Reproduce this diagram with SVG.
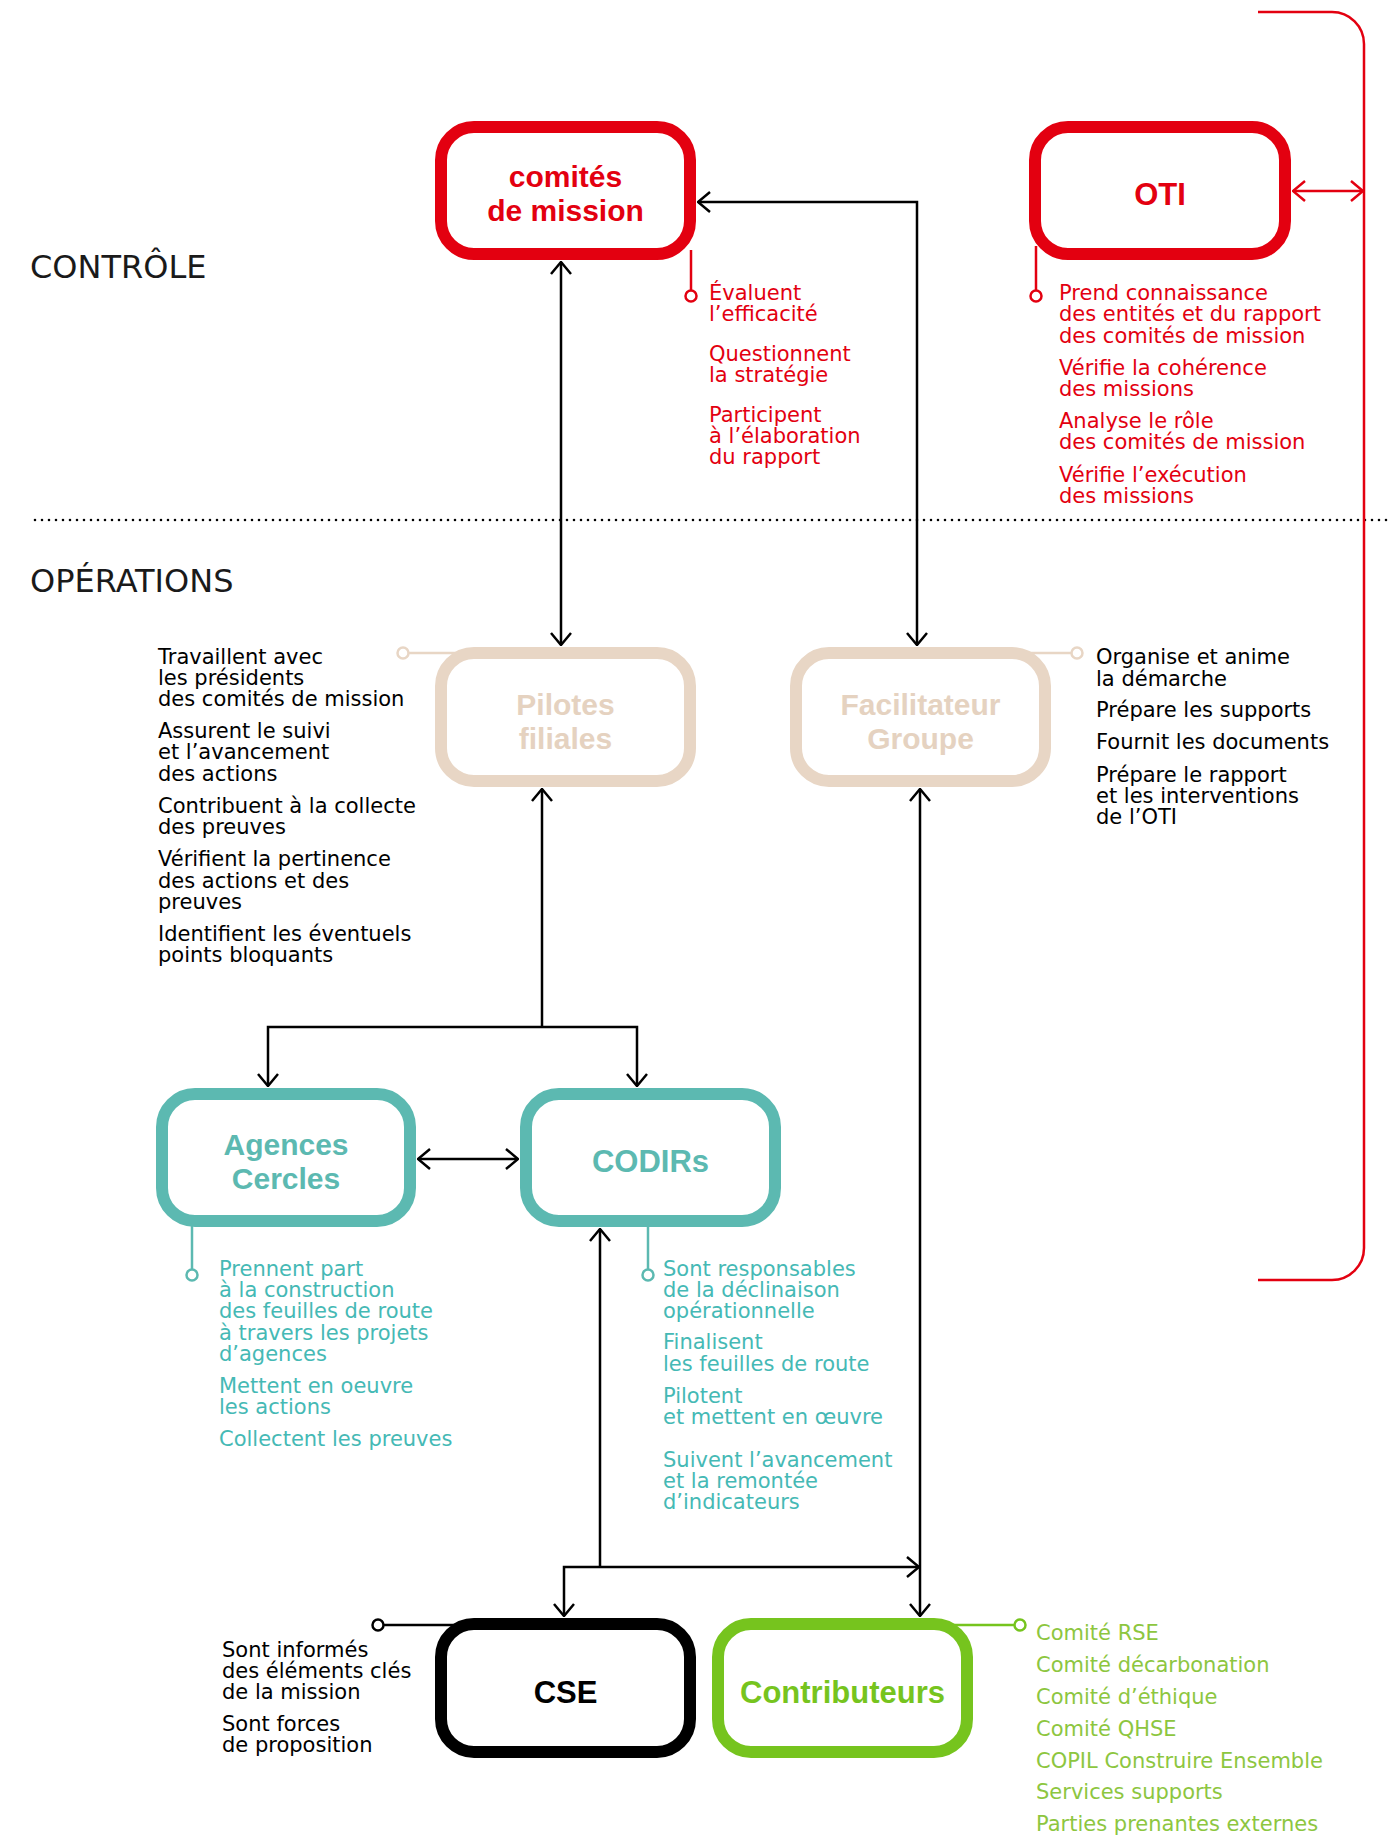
<svg xmlns="http://www.w3.org/2000/svg" width="1397" height="1837" viewBox="0 0 1397 1837">
<style>
.box{fill:#fff;stroke-width:12}
.red{stroke:#E30010}
.beige{stroke:#E8D6C5}
.teal{stroke:#5CB9B1}
.blk{stroke:#000}
.green{stroke:#76C41E}
.title{font-family:"Liberation Sans",Arial,sans-serif;font-weight:bold;font-size:30px;text-anchor:middle}
.big{font-size:31px}
.sec{font-family:"DejaVu Sans","Liberation Sans",sans-serif;font-weight:normal;font-size:32px;fill:#1a1a1a}
.note{font-family:"DejaVu Sans","Liberation Sans",sans-serif;font-size:21px}
.conn{fill:none;stroke:#000;stroke-width:2.5}
.ann{fill:none;stroke-width:2.5}
.dot{fill:#fff;stroke-width:2.5}
</style>
<defs>
<marker id="ah" viewBox="0 0 14 22" refX="13" refY="11" markerWidth="14" markerHeight="22" markerUnits="userSpaceOnUse" orient="auto-start-reverse">
<path d="M1,1 L13,11 L1,21" fill="none" stroke="#000" stroke-width="2.5"/>
</marker>
<marker id="ahr" viewBox="0 0 14 22" refX="13" refY="11" markerWidth="14" markerHeight="22" markerUnits="userSpaceOnUse" orient="auto-start-reverse">
<path d="M1,1 L13,11 L1,21" fill="none" stroke="#E30010" stroke-width="2.5"/>
</marker>
</defs>
<rect width="1397" height="1837" fill="#fff"/>

<g id="sections">
<text class="sec" x="30" y="278">CONTRÔLE</text>
<text class="sec" x="30" y="592">OPÉRATIONS</text>
<line x1="35" y1="520" x2="1392" y2="520" stroke="#000" stroke-width="2.6" stroke-linecap="round" stroke-dasharray="0 7"/>
<path d="M1258,12 H1332 A32,32 0 0 1 1364,44 V1248 A32,32 0 0 1 1332,1280 H1258" fill="none" stroke="#E30010" stroke-width="2.5"/>
</g>

<g id="connectors">
<line class="conn" x1="561" y1="262" x2="561" y2="645" marker-start="url(#ah)" marker-end="url(#ah)"/>
<path class="conn" d="M698,202 H917 V645" marker-start="url(#ah)" marker-end="url(#ah)"/>
<path class="conn" d="M542,789 V1027" marker-start="url(#ah)"/>
<path class="conn" d="M268,1086 V1027 H637 V1086" marker-start="url(#ah)" marker-end="url(#ah)"/>
<line class="conn" x1="418" y1="1159" x2="518" y2="1159" marker-start="url(#ah)" marker-end="url(#ah)"/>
<path class="conn" d="M600,1229 V1567" marker-start="url(#ah)"/>
<path class="conn" d="M564,1616 V1567 H919" marker-start="url(#ah)" marker-end="url(#ah)"/>
<line class="conn" x1="920" y1="789" x2="920" y2="1616" marker-start="url(#ah)" marker-end="url(#ah)"/>
<line x1="1293" y1="191" x2="1363" y2="191" fill="none" stroke="#E30010" stroke-width="2.5" marker-start="url(#ahr)" marker-end="url(#ahr)"/>
</g>

<g id="comites">
<path class="ann" stroke="#E30010" d="M691,250 V290"/>
<circle class="dot" stroke="#E30010" cx="691" cy="296" r="5.5"/>
<rect class="box red" x="441" y="127" width="249" height="127" rx="33"/>
<text class="title" fill="#E30010" x="565.5" y="187">comités</text>
<text class="title" fill="#E30010" x="565.5" y="221">de mission</text>
<g class="note" fill="#E30010">
<text x="709" y="300">Évaluent</text>
<text x="709" y="321">l’efficacité</text>
<text x="709" y="361">Questionnent</text>
<text x="709" y="382">la stratégie</text>
<text x="709" y="422">Participent</text>
<text x="709" y="443">à l’élaboration</text>
<text x="709" y="464">du rapport</text>
</g>
</g>

<g id="oti">
<path class="ann" stroke="#E30010" d="M1036,246 V290"/>
<circle class="dot" stroke="#E30010" cx="1036" cy="296" r="5.5"/>
<rect class="box red" x="1035" y="127" width="250" height="127" rx="33"/>
<text class="title big" fill="#E30010" x="1160" y="205">OTI</text>
<g class="note" fill="#E30010">
<text x="1059" y="300">Prend connaissance</text>
<text x="1059" y="321">des entités et du rapport</text>
<text x="1059" y="343">des comités de mission</text>
<text x="1059" y="375">Vérifie la cohérence</text>
<text x="1059" y="396">des missions</text>
<text x="1059" y="428">Analyse le rôle</text>
<text x="1059" y="449">des comités de mission</text>
<text x="1059" y="482">Vérifie l’exécution</text>
<text x="1059" y="503">des missions</text>
</g>
</g>

<g id="pilotes">
<path class="ann" stroke="#E8D6C5" d="M409,653 H462"/>
<circle class="dot" stroke="#E8D6C5" cx="403" cy="653" r="5.5"/>
<rect class="box beige" x="441" y="653" width="249" height="128" rx="33"/>
<text class="title" fill="#E5D2C0" x="565.5" y="715">Pilotes</text>
<text class="title" fill="#E5D2C0" x="565.5" y="749">filiales</text>
<g class="note" fill="#000">
<text x="158" y="664">Travaillent avec</text>
<text x="158" y="685">les présidents</text>
<text x="158" y="706">des comités de mission</text>
<text x="158" y="738">Assurent le suivi</text>
<text x="158" y="759">et l’avancement</text>
<text x="158" y="781">des actions</text>
<text x="158" y="813">Contribuent à la collecte</text>
<text x="158" y="834">des preuves</text>
<text x="158" y="866">Vérifient la pertinence</text>
<text x="158" y="888">des actions et des</text>
<text x="158" y="909">preuves</text>
<text x="158" y="941">Identifient les éventuels</text>
<text x="158" y="962">points bloquants</text>
</g>
</g>

<g id="facilitateur">
<path class="ann" stroke="#E8D6C5" d="M1030,653 H1071"/>
<circle class="dot" stroke="#E8D6C5" cx="1077" cy="653" r="5.5"/>
<rect class="box beige" x="796" y="653" width="249" height="128" rx="33"/>
<text class="title" fill="#E5D2C0" x="920.5" y="715">Facilitateur</text>
<text class="title" fill="#E5D2C0" x="920.5" y="749">Groupe</text>
<g class="note" fill="#000">
<text x="1096" y="664">Organise et anime</text>
<text x="1096" y="686">la démarche</text>
<text x="1096" y="717">Prépare les supports</text>
<text x="1096" y="749">Fournit les documents</text>
<text x="1096" y="782">Prépare le rapport</text>
<text x="1096" y="803">et les interventions</text>
<text x="1096" y="824">de l’OTI</text>
</g>
</g>

<g id="agences">
<path class="ann" stroke="#5CB9B1" d="M192,1215 V1269"/>
<circle class="dot" stroke="#5CB9B1" cx="192" cy="1275" r="5.5"/>
<rect class="box teal" x="162" y="1094" width="248" height="127" rx="33"/>
<text class="title" fill="#5CB9B1" x="286" y="1155">Agences</text>
<text class="title" fill="#5CB9B1" x="286" y="1189">Cercles</text>
<g class="note" fill="#45B9B5">
<text x="219" y="1276">Prennent part</text>
<text x="219" y="1297">à la construction</text>
<text x="219" y="1318">des feuilles de route</text>
<text x="219" y="1340">à travers les projets</text>
<text x="219" y="1361">d’agences</text>
<text x="219" y="1393">Mettent en oeuvre</text>
<text x="219" y="1414">les actions</text>
<text x="219" y="1446">Collectent les preuves</text>
</g>
</g>

<g id="codirs">
<path class="ann" stroke="#5CB9B1" d="M648,1221 V1269"/>
<circle class="dot" stroke="#5CB9B1" cx="648" cy="1275" r="5.5"/>
<rect class="box teal" x="526" y="1094" width="249" height="127" rx="33"/>
<text class="title big" fill="#5CB9B1" x="650.5" y="1172">CODIRs</text>
<g class="note" fill="#45B9B5">
<text x="663" y="1276">Sont responsables</text>
<text x="663" y="1297">de la déclinaison</text>
<text x="663" y="1318">opérationnelle</text>
<text x="663" y="1349">Finalisent</text>
<text x="663" y="1371">les feuilles de route</text>
<text x="663" y="1403">Pilotent</text>
<text x="663" y="1424">et mettent en œuvre</text>
<text x="663" y="1467">Suivent l’avancement</text>
<text x="663" y="1488">et la remontée</text>
<text x="663" y="1509">d’indicateurs</text>
</g>
</g>

<g id="cse">
<path class="ann" stroke="#000" d="M384,1625 H462"/>
<circle class="dot" stroke="#000" cx="378" cy="1625" r="5.5"/>
<rect class="box blk" x="441" y="1624" width="249" height="128" rx="33"/>
<text class="title big" fill="#000" x="565.5" y="1703">CSE</text>
<g class="note" fill="#000">
<text x="222" y="1657">Sont informés</text>
<text x="222" y="1678">des éléments clés</text>
<text x="222" y="1699">de la mission</text>
<text x="222" y="1731">Sont forces</text>
<text x="222" y="1752">de proposition</text>
</g>
</g>

<g id="contributeurs">
<path class="ann" stroke="#76C41E" d="M945,1625 H1014"/>
<circle class="dot" stroke="#76C41E" cx="1020" cy="1625" r="5.5"/>
<rect class="box green" x="718" y="1624" width="249" height="128" rx="33"/>
<text class="title big" fill="#76C41E" x="842.5" y="1703">Contributeurs</text>
<g class="note" fill="#8DC63F">
<text x="1036" y="1640">Comité RSE</text>
<text x="1036" y="1672">Comité décarbonation</text>
<text x="1036" y="1704">Comité d’éthique</text>
<text x="1036" y="1736">Comité QHSE</text>
<text x="1036" y="1768">COPIL Construire Ensemble</text>
<text x="1036" y="1799">Services supports</text>
<text x="1036" y="1831">Parties prenantes externes</text>
</g>
</g>
</svg>
